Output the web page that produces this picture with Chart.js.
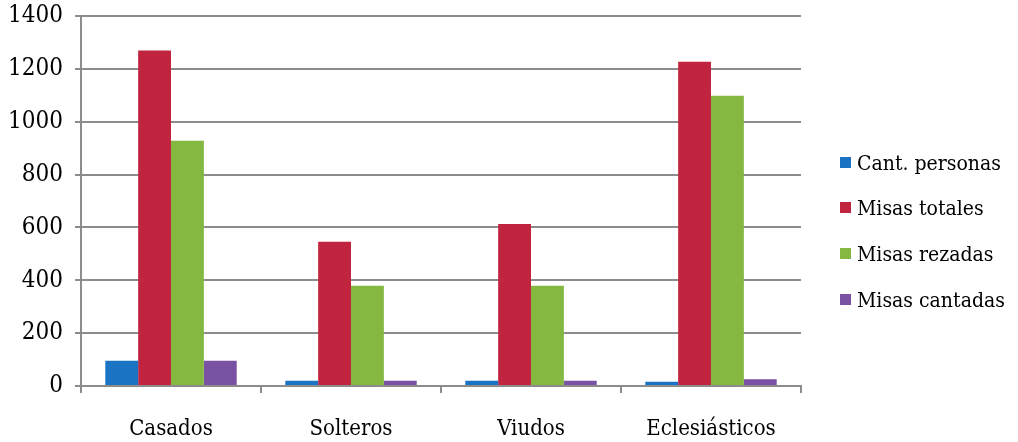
<!DOCTYPE html>
<html><head><meta charset="utf-8">
<script src="https://cdn.jsdelivr.net/npm/chart.js@4"></script>
<style>
html,body{margin:0;padding:0;background:#fff}
#wrap{position:relative;width:1018px;height:442px}
#legend{position:absolute;left:840px;top:0;font-family:'DejaVu Serif Condensed','DejaVu Serif',serif;font-size:21px;color:#000}
.item{position:absolute;left:0;white-space:nowrap;height:24px;line-height:24px}
.box{position:absolute;left:0;top:6px;width:11px;height:11px}
.txt{position:absolute;left:17px;top:0}
</style>
</head><body><div id="wrap"><canvas id="c" width="1018" height="442"></canvas><div id="legend"></div></div>
<script>
const categories = ['Casados','Solteros','Viudos','Eclesiásticos'];
const seriesNames = ['Cant. personas','Misas totales','Misas rezadas','Misas cantadas'];
const cantPersonas = [96, 20, 20, 16];
const misasTotales = [1269, 546, 613, 1227];
const misasRezadas = [928, 379, 379, 1098];
const misasCantadas = [96, 20, 20, 26];
const yTicks = [0,200,400,600,800,1000,1200,1400];
const colors = ['#1b74c3','#c1243f','#84b840','#7a52a3'];

const serif = "'DejaVu Serif Condensed', 'DejaVu Serif', serif";
const seriesData = [cantPersonas, misasTotales, misasRezadas, misasCantadas];

const chart = new Chart(document.getElementById('c'), {
  type: 'bar',
  data: {
    labels: categories,
    datasets: seriesNames.map((n,i)=>({label:n, data:seriesData[i], backgroundColor:colors[i]}))
  },
  options: {
    responsive:false, animation:false, devicePixelRatio:1,
    layout:{padding:{top:0,right:217,bottom:0,left:0}},
    datasets:{bar:{categoryPercentage:0.73, barPercentage:1.0}},
    plugins:{ tooltip:{enabled:false}, legend:{display:false} },
    scales:{
      x:{
        afterFit:(s)=>{s.height = 56; s.paddingLeft = 0; s.paddingRight = 0;},
        grid:{drawOnChartArea:false, drawTicks:true, tickLength:7, color:'#8c8c8c', lineWidth:2, offset:true},
        border:{color:'#8c8c8c', width:2},
        ticks:{font:{family:serif,size:22}, color:'#000', padding:23}
      },
      y:{
        min:0, max:1400,
        afterBuildTicks:(ax)=>{ax.ticks = yTicks.map(v=>({value:v}));},
        afterFit:(s)=>{s.width = 81; s.paddingTop = 16; s.paddingBottom = 0;},
        grid:{color:'#8c8c8c', lineWidth:2, tickLength:6},
        border:{color:'#8c8c8c', width:2},
        ticks:{font:{family:serif,size:24}, color:'#000', padding:12, callback:(v)=>String(v)}
      }
    }
  }
});

// HTML legend built from the dataset list
const legendTops = [163,208,254,300];
const lg = document.getElementById('legend');
chart.data.datasets.forEach((ds,i)=>{
  const it = document.createElement('div'); it.className='item'; it.style.top=(legendTops[i]-12)+'px';
  const b = document.createElement('div'); b.className='box'; b.style.background=ds.backgroundColor;
  const t = document.createElement('div'); t.className='txt'; t.textContent=ds.label;
  it.appendChild(b); it.appendChild(t); lg.appendChild(it);
});
</script></body></html>
